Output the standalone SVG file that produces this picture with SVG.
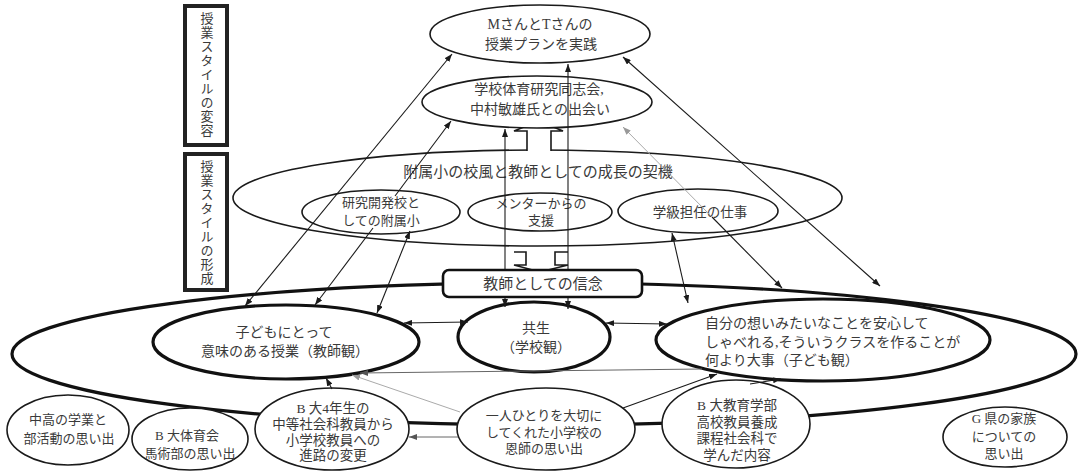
<svg xmlns="http://www.w3.org/2000/svg" width="1078" height="471" viewBox="0 0 1078 471">
<style>
text{font-family:"Liberation Serif","Noto Sans CJK JP","Noto Sans CJK SC",serif;fill:#3a3a3a;text-anchor:middle}
.f13{font-size:13px}
.f135{font-size:13.5px}
.f14{font-size:14px}
.f15{font-size:15px}
.st{text-anchor:start}
.thin{fill:#fff;stroke:#1a1a1a;stroke-width:1.6}
.thinn{fill:none;stroke:#1a1a1a;stroke-width:1.6}
.thick{fill:#fff;stroke:#111;stroke-width:3.2}
.box{fill:#fff;stroke:#222;stroke-width:4}
.c{fill:none;stroke:#1a1a1a;stroke-width:1.1}
.cg{fill:none;stroke:#aaa;stroke-width:1}
.cm{fill:none;stroke:#666;stroke-width:1}
.vt{font-size:13px;writing-mode:vertical-rl;text-orientation:upright;letter-spacing:1px}
</style>
<defs>
<marker id="ah" markerUnits="userSpaceOnUse" markerWidth="8" markerHeight="6" refX="8" refY="3" orient="auto-start-reverse" viewBox="0 0 8 6"><path d="M0,0 L8,3 L0,6 z" fill="#1a1a1a"/></marker>
<marker id="ahg" markerUnits="userSpaceOnUse" markerWidth="8" markerHeight="6" refX="8" refY="3" orient="auto-start-reverse" viewBox="0 0 8 6"><path d="M0,0 L8,3 L0,6 z" fill="#999"/></marker>
<marker id="ahm" markerUnits="userSpaceOnUse" markerWidth="8" markerHeight="6" refX="8" refY="3" orient="auto-start-reverse" viewBox="0 0 8 6"><path d="M0,0 L8,3 L0,6 z" fill="#555"/></marker>
</defs>

<g id="label-henyo">
<rect class="box" x="185" y="6" width="42" height="139"/>
<text class="vt" x="206" y="75">授業スタイルの変容</text>
</g>
<g id="label-keisei">
<rect class="box" x="185" y="154" width="42" height="136"/>
<text class="vt" x="206" y="223">授業スタイルの形成</text>
</g>

<g id="outer-belief-area">
<ellipse cx="544" cy="354" rx="532" ry="71" fill="none" stroke="#111" stroke-width="3.2"/>
</g>

<g id="fuzoku">
<ellipse class="thinn" cx="537.5" cy="198" rx="304.5" ry="48"/>
<text class="f15" x="538" y="177">附属小の校風と教師としての成長の契機</text>
</g>

<g id="block-arrows">
<polyline class="thin" points="527,151 527,131 514,131 539,121 563,131 551,131 551,151"/>
<polyline fill="#fff" stroke="#1a1a1a" stroke-width="1.6" points="514,252 526,252 526,265 514,265 540,272 568,265 555,265 555,252 568,252"/>
</g>

<g id="top-plan">
<ellipse class="thin" cx="540" cy="34" rx="110" ry="29"/>
<text class="f14" x="540" y="29">MさんとTさんの<tspan x="541" dy="20">授業プランを実践</tspan></text>
</g>

<g id="doshikai">
<ellipse class="thin" cx="537" cy="102" rx="115" ry="26"/>
<text class="f14" x="539" y="94">学校体育研究同志会,<tspan x="540" dy="19.5">中村敏雄氏との出会い</tspan></text>
</g>

<g id="kenkyu">
<ellipse class="thin" cx="381" cy="212" rx="79" ry="22"/>
<text class="f13" x="381" y="207">研究開発校と<tspan x="381" dy="18">しての附属小</tspan></text>
</g>

<g id="mentor">
<ellipse class="thin" cx="540" cy="212" rx="72" ry="19"/>
<text class="f13" x="541" y="208">メンターからの<tspan x="541" dy="17">支援</tspan></text>
</g>

<g id="gakkyu">
<ellipse class="thin" cx="698" cy="211" rx="80" ry="22"/>
<text class="f135" x="700" y="217">学級担任の仕事</text>
</g>

<g id="kyoshikan">
<ellipse class="thick" cx="286" cy="342" rx="133" ry="37"/>
<text class="f14" x="284" y="337">子どもにとって<tspan x="285" dy="19">意味のある授業（教師観）</tspan></text>
</g>

<g id="kyosei">
<ellipse class="thick" cx="534" cy="337" rx="76" ry="35"/>
<text class="f14" x="536" y="333">共生<tspan x="536" dy="19">（学校観）</tspan></text>
</g>

<g id="kodomokan">
<ellipse class="thick" cx="823" cy="340" rx="167" ry="41"/>
<text class="f14 st" x="705" y="328">自分の想いみたいなことを安心して<tspan x="705" dy="19">しゃべれる,そういうクラスを作ることが</tspan><tspan x="705" dy="18">何より大事（子ども観）</tspan></text>
</g>

<g id="chuko">
<ellipse class="thin" cx="68" cy="430" rx="61" ry="35"/>
<text class="f13" x="68" y="424">中高の学業と<tspan x="69" dy="19">部活動の思い出</tspan></text>
</g>

<g id="bataiku">
<ellipse class="thin" cx="190" cy="439" rx="58" ry="31"/>
<text class="f13" x="187" y="440">B 大体育会<tspan x="190" dy="18">馬術部の思い出</tspan></text>
</g>

<g id="b4nen">
<ellipse class="thin" cx="332" cy="429" rx="77" ry="41"/>
<text class="f135" x="333" y="413">B 大4年生の<tspan x="333" dy="16">中等社会科教員から</tspan><tspan x="333" dy="15.5">小学校教員への</tspan><tspan x="333" dy="15.5">進路の変更</tspan></text>
</g>

<g id="onshi">
<ellipse class="thin" cx="546" cy="429" rx="89" ry="41"/>
<text class="f13" x="544" y="420">一人ひとりを大切に<tspan x="544" dy="16.5">してくれた小学校の</tspan><tspan x="544" dy="16.5">恩師の思い出</tspan></text>
</g>

<g id="bkyoiku">
<ellipse class="thin" cx="736" cy="424" rx="74" ry="44"/>
<text class="f135" x="737" y="410">B 大教育学部<tspan x="737" dy="17">高校教員養成</tspan><tspan x="737" dy="16">課程社会科で</tspan><tspan x="737" dy="17">学んだ内容</tspan></text>
</g>

<g id="gken">
<ellipse class="thin" cx="1005" cy="437" rx="62" ry="30"/>
<text class="f13" x="1004" y="423">G 県の家族<tspan x="1004" dy="18">についての</tspan><tspan x="1004" dy="17">思い出</tspan></text>
</g>

<g id="connectors">
<line class="c" x1="245" y1="306" x2="452" y2="54" marker-start="url(#ah)" marker-end="url(#ah)"/>
<line class="c" x1="395" y1="196" x2="451" y2="121" marker-end="url(#ah)"/>
<line class="c" x1="373" y1="228" x2="315" y2="305" marker-end="url(#ah)"/>
<line class="c" x1="410" y1="231" x2="377" y2="313" marker-start="url(#ah)" marker-end="url(#ah)"/>
<line class="c" x1="505" y1="129" x2="505" y2="307" marker-start="url(#ah)" marker-end="url(#ah)"/>
<line class="c" x1="568" y1="64" x2="568" y2="309" marker-start="url(#ah)" marker-end="url(#ah)"/>
<line class="c" x1="404" y1="323" x2="468" y2="322" marker-start="url(#ah)" marker-end="url(#ah)"/>
<line class="c" x1="606" y1="323" x2="667" y2="324" marker-start="url(#ah)" marker-end="url(#ah)"/>
<line class="c" x1="672" y1="233" x2="688" y2="303" marker-start="url(#ah)" marker-end="url(#ah)"/>
<line class="cg" x1="623" y1="127" x2="712" y2="217" marker-start="url(#ahg)"/>
<line class="c" x1="712" y1="217" x2="782" y2="288" marker-end="url(#ah)"/>
<line class="c" x1="623" y1="57" x2="880" y2="286" marker-start="url(#ah)" marker-end="url(#ah)"/>
<line class="cm" x1="458" y1="437" x2="409" y2="437" marker-end="url(#ahm)"/>
<line class="c" x1="332" y1="389" x2="326" y2="378" marker-end="url(#ah)"/>
<line class="cm" x1="702" y1="369" x2="360" y2="373" marker-end="url(#ahm)"/>
<line class="cg" x1="460" y1="412" x2="352" y2="375" marker-end="url(#ahg)"/>
<line class="c" x1="623" y1="408" x2="717" y2="374" marker-end="url(#ah)"/>
<line class="c" x1="750" y1="384" x2="781" y2="379" marker-end="url(#ah)"/>
</g>

<g id="shinnen">
<rect x="443" y="270" width="199" height="27" rx="6" fill="#fff" stroke="#111" stroke-width="2.6"/>
<text class="f15" x="543" y="289">教師としての信念</text>
</g>
</svg>
